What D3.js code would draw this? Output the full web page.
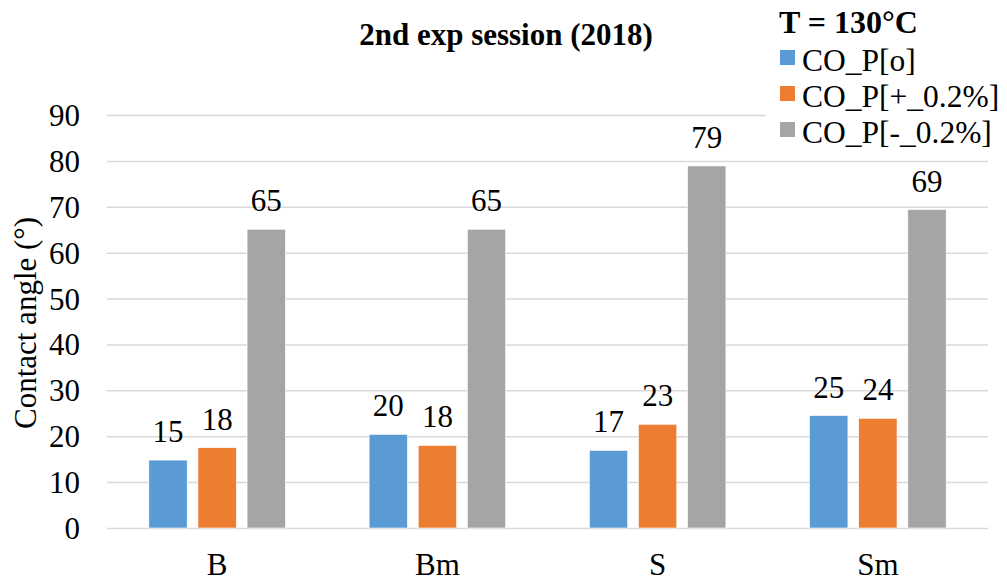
<!DOCTYPE html>
<html><head><meta charset="utf-8">
<script src="https://cdn.jsdelivr.net/npm/d3@7"></script>
<style>
html,body{margin:0;padding:0;background:#fff;}
</style></head>
<body><svg id="c" width="1007" height="583"></svg>
<script>
const categories = ["B", "Bm", "S", "Sm"];
const seriesNames = ["CO_P[o]", "CO_P[+_0.2%]", "CO_P[-_0.2%]"];
const seriesO = [14.8, 20.4, 16.9, 24.5];
const seriesPlus = [17.5, 18.0, 22.6, 23.9];
const seriesMinus = [65.1, 65.1, 78.9, 69.4];
const yTicks = [0, 10, 20, 30, 40, 50, 60, 70, 80, 90];
const colors = ["#5b9bd5", "#ed7d31", "#a5a5a5"];

const FONT = "Liberation Serif";
const seriesVals = [seriesO, seriesPlus, seriesMinus];
const svg = d3.select("#c");
const pLeft = 107, pRight = 988, pTop = 115, pBottom = 528;

const x0 = d3.scaleBand().domain(categories).range([pLeft, pRight]);
const bw = x0.bandwidth();
const x1 = d3.scaleBand().domain(seriesNames).range([bw * 0.19, bw * 0.81]).paddingInner(0.22);
const y = d3.scaleLinear().domain([0, 90]).range([pBottom, pTop]);

// gridlines + y tick labels
const yAxis = d3.axisLeft(y).tickValues(yTicks).tickSize(-(pRight - pLeft)).tickPadding(27).tickFormat(d3.format("d"));
const gAxis = svg.append("g").attr("transform", `translate(${pLeft},0)`).call(yAxis)
  .attr("font-family", FONT);
gAxis.select(".domain").remove();
gAxis.selectAll(".tick line").attr("stroke", "#d9d9d9").attr("stroke-width", 1.5);
gAxis.selectAll(".tick text").style("font-family", FONT).style("font-size", "31px").attr("fill", "#000").attr("dy", "0.34em");

// bars
const groups = svg.append("g").selectAll("g").data(categories).join("g")
  .attr("transform", d => `translate(${x0(d)},0)`);
groups.selectAll("rect").data((d, i) => seriesNames.map((s, j) => ({s, j, v: seriesVals[j][i]})))
  .join("rect")
  .attr("x", d => x1(d.s)).attr("width", x1.bandwidth())
  .attr("y", d => y(d.v)).attr("height", d => y(0) - y(d.v))
  .attr("fill", d => colors[d.j]).attr("stroke", "#fff").attr("stroke-width", 0.6);
groups.selectAll("text.lbl").data((d, i) => seriesNames.map((s, j) => ({s, j, v: seriesVals[j][i]})))
  .join("text").attr("class", "lbl")
  .attr("x", d => x1(d.s) + x1.bandwidth() / 2).attr("y", d => y(d.v) - 18)
  .attr("text-anchor", "middle").style("font-family", FONT).style("font-size", "31px").attr("fill", "#000")
  .text(d => Math.round(d.v));

// x axis labels
const xAxis = d3.axisBottom(x0).tickSize(0);
const gx = svg.append("g").attr("transform", `translate(0,${pBottom})`).call(xAxis).attr("font-family", FONT);
gx.select(".domain").remove();
gx.selectAll(".tick text").style("font-family", FONT).style("font-size", "31px").attr("fill", "#000").attr("dy", "0").attr("y", 47);

// y axis title
svg.append("text").attr("transform", "translate(36,323) rotate(-90)")
  .attr("text-anchor", "middle").style("font-family", FONT).style("font-size", "31px").attr("fill", "#000").text("Contact angle (°)");

// chart title
svg.append("text").attr("x", 506).attr("y", 45).attr("text-anchor", "middle")
  .style("font-family", FONT).style("font-size", "31px").style("font-weight", "bold").attr("fill", "#000").text("2nd exp session (2018)");

// legend
const lg = svg.append("g");
lg.append("rect").attr("x", 766).attr("y", 0).attr("width", 241).attr("height", 150).attr("fill", "#fff");
lg.append("text").attr("x", 779).attr("y", 33).style("font-family", FONT).style("font-size", "32px").style("font-weight", "bold").attr("fill", "#000").text("T = 130°C");
const items = lg.selectAll("g.it").data(seriesNames).join("g").attr("class", "it")
  .attr("transform", (d, i) => `translate(780,${50 + i * 36})`);
items.append("rect").attr("width", 15).attr("height", 15).attr("fill", (d, i) => colors[i]);
items.append("text").attr("x", 22).attr("y", 21).style("font-family", FONT).style("font-size", "31.5px").attr("fill", "#000").text(d => d);
</script></body></html>
